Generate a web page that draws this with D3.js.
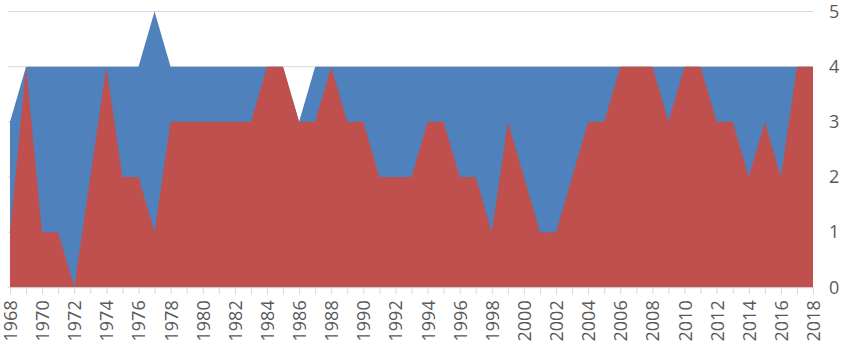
<!DOCTYPE html>
<html>
<head>
<meta charset="utf-8">
<script src="https://cdn.jsdelivr.net/npm/d3@7"></script>
<style>
  html, body { margin: 0; padding: 0; background: #ffffff; }
  svg { display: block; }
  text { font-family: "Open Sans", "Noto Sans", sans-serif; fill: #595959; }
</style>
</head>
<body>
<svg id="chart" width="850" height="347"></svg>
<script>
const years = d3.range(1968, 2019);
const totalSeries = [3,4,4,4,4,4,4,4,4,5,4,4,4,4,4,4,4,4,3,4,4,4,4,4,4,4,4,4,4,4,4,4,4,4,4,4,4,4,4,4,4,4,4,4,4,4,4,4,4,4,4];
const frontSeries = [1,4,1,1,0,2,4,2,2,1,3,3,3,3,3,3,4,4,3,3,4,3,3,2,2,2,3,3,2,2,1,3,2,1,1,2,3,3,4,4,4,3,4,4,3,3,2,3,2,4,4];
const yTicks = [0,1,2,3,4,5];

const svg = d3.select("#chart");
const margin = { left: 10, right: 37, top: 11.5, bottom: 59.7 };
const W = 850, H = 347;

const x = d3.scaleLinear().domain([1968, 2018]).range([margin.left, W - margin.right]);
const y = d3.scaleLinear().domain([0, 5]).range([H - margin.bottom, margin.top]);

// gridlines
svg.append("g").selectAll("line").data(yTicks).join("line")
  .attr("x1", x(1968) - 2).attr("x2", x(2018))
  .attr("y1", d => y(d)).attr("y2", d => y(d))
  .attr("stroke", "#d9d9d9").attr("stroke-width", 1);

const area = (vals) => d3.area()
  .x((d, i) => x(years[i]))
  .y0(y(0))
  .y1(d => y(d))(vals);

svg.append("path").attr("d", area(totalSeries)).attr("fill", "#4F81BD");
svg.append("path").attr("d", area(frontSeries)).attr("fill", "#C0504D");

// x axis
const xAxis = d3.axisBottom(x)
  .tickValues(years)
  .tickFormat(d => d % 2 === 0 ? d : "")
  .tickSize(7)
  .tickPadding(6);
const gx = svg.append("g").attr("transform", `translate(0,${y(0)})`).call(xAxis);
gx.select(".domain").attr("stroke", "#d9d9d9");
gx.selectAll(".tick line").attr("stroke", "#d9d9d9");
gx.selectAll(".tick text")
  .attr("font-size", 18)
  .attr("fill", "#595959")
  .attr("text-anchor", "end")
  .attr("transform", "rotate(-90)")
  .attr("x", -13)
  .attr("y", 0)
  .attr("dy", "0.36em");

// right y axis
const yAxis = d3.axisRight(y).tickValues(yTicks).tickSize(0).tickPadding(16).tickFormat(d3.format("d"));
const gy = svg.append("g").attr("transform", `translate(${x(2018)},0)`).call(yAxis);
gy.select(".domain").remove();
gy.selectAll(".tick text").attr("font-size", 18).attr("fill", "#595959");
gx.attr("font-family", null);
gy.attr("font-family", null);
</script>
</body>
</html>
